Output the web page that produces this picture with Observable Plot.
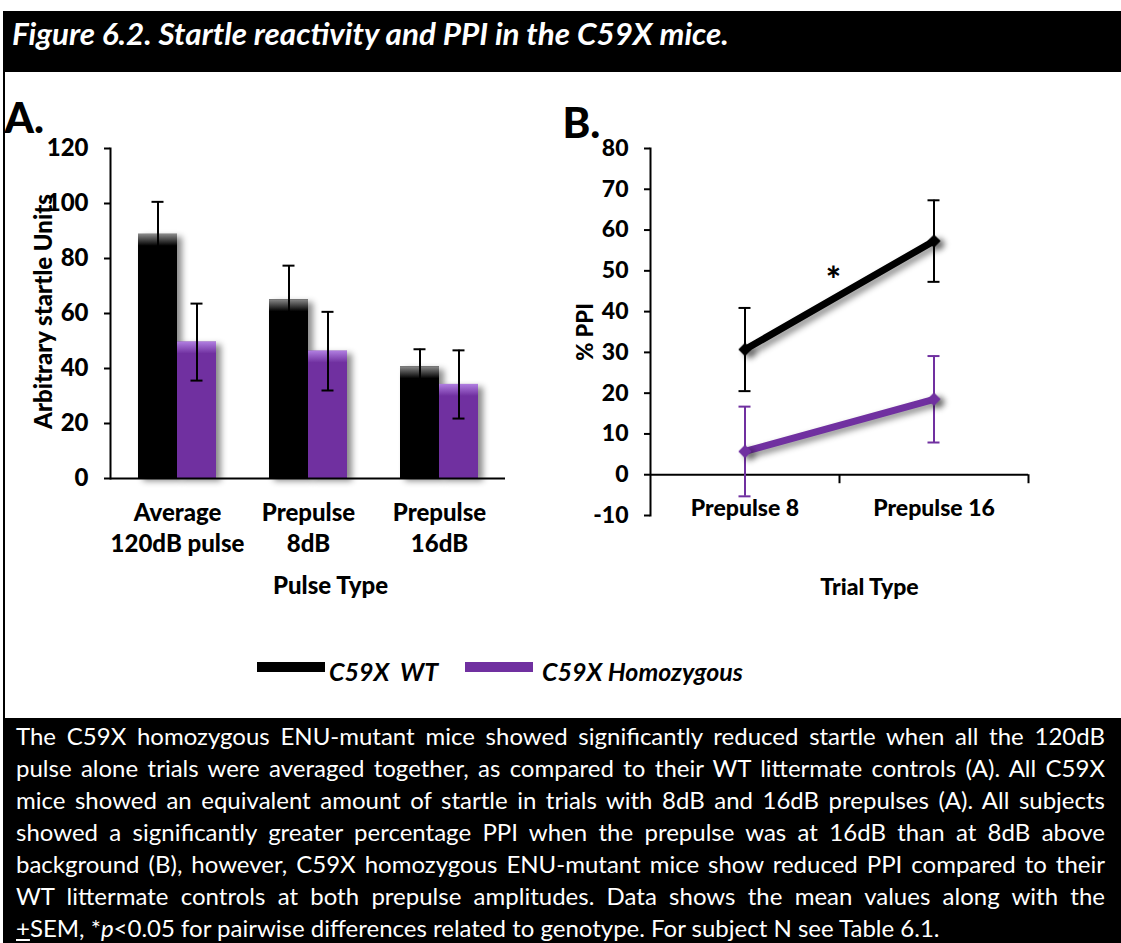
<!DOCTYPE html>
<html>
<head>
<meta charset="utf-8">
<script src="https://cdn.jsdelivr.net/npm/d3@7"></script>
<script src="https://cdn.jsdelivr.net/npm/@observablehq/plot@0.6"></script>
<style>
  html, body { margin: 0; padding: 0; background: #fff; }
  body { position: relative; width: 1121px; height: 943px; overflow: hidden; font-family: Lato, "Open Sans", sans-serif; }
  #header { position: absolute; left: 3px; top: 11px; width: 1118px; height: 61px; background: #000; }
  #title { position: absolute; left: 9px; top: 4px; color: #fff; font-weight: bold; font-style: italic; font-size: 31.4px; line-height: 37px; white-space: nowrap; }
  #leftBorder { position: absolute; left: 3px; top: 72px; width: 2px; height: 646px; background: #000; }
  #chartA { position: absolute; left: 0; top: 80px; width: 540px; height: 540px; }
  #chartB { position: absolute; left: 540px; top: 80px; width: 581px; height: 540px; }
  #chartA svg, #chartB svg { overflow: visible; }
  #chartA svg text, #chartB svg text { font-weight: 900; }
  .swatch { position: absolute; height: 10px; }
  .legText { position: absolute; font-weight: bold; font-style: italic; font-size: 25px; white-space: pre; line-height: 30px; }
  #caption { position: absolute; left: 3px; top: 718px; width: 1118px; height: 225px; background: #000; }
  #captionText { position: absolute; left: 16px; top: 720px; width: 1089px; color: #fff; font-size: 24px; line-height: 32px; }
  .cl { white-space: nowrap; text-align: justify; text-align-last: justify; }
  .cl.last { text-align: left; text-align-last: left; }
</style>
</head>
<body>
<div id="header"><div id="title">Figure 6.2. Startle reactivity and PPI in the C59X mice.</div></div>
<div id="leftBorder"></div>
<div id="chartA"></div>
<div id="chartB"></div>
<div id="legend"></div>
<div id="caption"></div>
<div id="captionText"></div>
<script>
// ---------------- DATA ----------------
const pulseTypes = ["Average\n120dB pulse", "Prepulse\n8dB", "Prepulse\n16dB"];
const wtStartle = [88.8, 65.0, 40.6];
const wtStartleSEM = [11.8, 12.4, 6.4];
const homStartle = [49.6, 46.3, 34.2];
const homStartleSEM = [14.0, 14.3, 12.4];
const startleTicks = [0, 20, 40, 60, 80, 100, 120];

const trialTypes = ["Prepulse 8", "Prepulse 16"];
const wtPPI = [30.7, 57.3];
const wtPPISEM = [10.2, 10.0];
const homPPI = [5.7, 18.5];
const homPPISEM = [11.0, 10.6];
const ppiTicks = [-10, 0, 10, 20, 30, 40, 50, 60, 70, 80];

const seriesNames = ["C59X  WT", "C59X Homozygous"];
const seriesColors = ["#000000", "#7030A0"];
const seriesHighlights = ["#8a8a8a", "#b07ee0"];

const captionLines = [
  "The C59X homozygous ENU-mutant mice showed significantly reduced startle when all the 120dB",
  "pulse alone trials were averaged together, as compared to their WT littermate controls (A). All C59X",
  "mice showed an equivalent amount of startle in trials with 8dB and 16dB prepulses (A). All subjects",
  "showed a significantly greater percentage PPI when the prepulse was at 16dB than at 8dB above",
  "background (B), however, C59X homozygous ENU-mutant mice show reduced PPI compared to their",
  "WT littermate controls at both prepulse amplitudes. Data shows the mean values along with the",
  "<u>+</u>SEM, *<i>p</i>&lt;0.05 for pairwise differences related to genotype. For subject N see Table 6.1."
];

// ---------------- TABLES ----------------
const startleWT = pulseTypes.map((p, i) => ({p, v: wtStartle[i], e: wtStartleSEM[i]}));
const startleHom = pulseTypes.map((p, i) => ({p, v: homStartle[i], e: homStartleSEM[i]}));
const ppiWT = trialTypes.map((t, i) => ({t, v: wtPPI[i], e: wtPPISEM[i]}));
const ppiHom = trialTypes.map((t, i) => ({t, v: homPPI[i], e: homPPISEM[i]}));

function gradientDefs() {
  const ns = "http://www.w3.org/2000/svg";
  const defs = document.createElementNS(ns, "defs");
  seriesColors.forEach((c, k) => {
    const g = document.createElementNS(ns, "linearGradient");
    g.setAttribute("id", "hl" + k);
    g.setAttribute("x1", "0"); g.setAttribute("y1", "0");
    g.setAttribute("x2", "0"); g.setAttribute("y2", "1");
    const s1 = document.createElementNS(ns, "stop");
    s1.setAttribute("offset", "0"); s1.setAttribute("stop-color", seriesHighlights[k]);
    const s2 = document.createElementNS(ns, "stop");
    s2.setAttribute("offset", "1"); s2.setAttribute("stop-color", c);
    g.appendChild(s1); g.appendChild(s2);
    defs.appendChild(g);
  });
  return defs;
}

const baseStyle = {fontFamily: "Lato, 'Open Sans', sans-serif", fontSize: "24px", fontWeight: "bold", color: "#000", background: "transparent", overflow: "visible"};
const plain = d => String(d);

// ---------------- PANEL A ----------------
const half = 39;
const chartA = Plot.plot({
  width: 540, height: 540,
  marginLeft: 110, marginRight: 35, marginTop: 68, marginBottom: 142,
  style: baseStyle,
  x: {domain: pulseTypes, paddingInner: 0.408, paddingOuter: 0.204},
  y: {domain: [0, 120]},
  marks: [
    gradientDefs,
    Plot.barY(startleWT, {x: "p", y: "v", fill: seriesColors[0], insetRight: half}),
    Plot.barY(startleHom, {x: "p", y: "v", fill: seriesColors[1], insetLeft: half}),
    Plot.barY(startleWT, {x: "p", y1: "v", y2: "v", insetRight: half, insetBottom: -12, fill: "url(#hl0)"}),
    Plot.barY(startleHom, {x: "p", y1: "v", y2: "v", insetLeft: half, insetBottom: -12, fill: "url(#hl1)"}),
    Plot.ruleX(startleWT, {x: "p", y1: d => d.v - d.e, y2: d => d.v + d.e, dx: -half / 2, stroke: "#000", strokeWidth: 2}),
    Plot.ruleX(startleHom, {x: "p", y1: d => d.v - d.e, y2: d => d.v + d.e, dx: half / 2, stroke: "#000", strokeWidth: 2}),
    Plot.tickY(startleWT, {x: "p", y: d => d.v + d.e, insetLeft: 13.5, insetRight: 52.5, stroke: "#000", strokeWidth: 2}),
    Plot.tickY(startleWT, {x: "p", y: d => d.v - d.e, insetLeft: 13.5, insetRight: 52.5, stroke: "#000", strokeWidth: 2}),
    Plot.tickY(startleHom, {x: "p", y: d => d.v + d.e, insetLeft: 52.5, insetRight: 13.5, stroke: "#000", strokeWidth: 2}),
    Plot.tickY(startleHom, {x: "p", y: d => d.v - d.e, insetLeft: 52.5, insetRight: 13.5, stroke: "#000", strokeWidth: 2}),
    Plot.frame({anchor: "left", strokeWidth: 2}),
    Plot.ruleY([0], {strokeWidth: 2}),
    Plot.axisY({ticks: startleTicks, tickFormat: plain, tickSize: 6, tickPadding: 16, strokeWidth: 2, label: null, fontSize: 24, fontWeight: "bold"}),
    Plot.axisX({tickSize: 0, tickPadding: 20, lineHeight: 1.3, label: null, fontSize: 24, fontWeight: "bold"}),
    Plot.text(["Pulse Type"], {frameAnchor: "bottom", lineAnchor: "middle", dx: 22.5, dy: 108, fontSize: 24}),
    Plot.text(["Arbitrary startle Units"], {frameAnchor: "left", textAnchor: "middle", lineAnchor: "middle", rotate: -90, dx: -66.5, dy: -2, fontSize: 24}),
    Plot.text(["A."], {frameAnchor: "top-left", textAnchor: "start", lineAnchor: "top", dx: -106, dy: -45, fontSize: 42})
  ]
});
document.getElementById("chartA").appendChild(chartA);

// ---------------- PANEL B ----------------
const chartB = Plot.plot({
  width: 581, height: 540,
  marginLeft: 110, marginRight: 93, marginTop: 68, marginBottom: 105,
  style: baseStyle,
  x: {domain: trialTypes, padding: 0, axis: null},
  y: {domain: [-10, 80]},
  marks: [
    Plot.frame({anchor: "left", strokeWidth: 2}),
    Plot.ruleY([0], {strokeWidth: 2}),
    Plot.ruleX(trialTypes, {x: d => d, y1: 0, y2: 0, dx: 94.5, insetBottom: -9, strokeWidth: 2}),
    Plot.axisY({ticks: ppiTicks, tickFormat: plain, tickSize: 6, tickPadding: 16, strokeWidth: 2, label: null, fontSize: 23, fontWeight: "bold"}),
    Plot.ruleX(ppiWT, {x: "t", y1: d => d.v - d.e, y2: d => d.v + d.e, stroke: seriesColors[0], strokeWidth: 2}),
    Plot.tickY(ppiWT, {x: "t", y: d => d.v + d.e, insetLeft: 88.5, insetRight: 88.5, stroke: seriesColors[0], strokeWidth: 2}),
    Plot.tickY(ppiWT, {x: "t", y: d => d.v - d.e, insetLeft: 88.5, insetRight: 88.5, stroke: seriesColors[0], strokeWidth: 2}),
    Plot.ruleX(ppiHom, {x: "t", y1: d => d.v - d.e, y2: d => d.v + d.e, stroke: seriesColors[1], strokeWidth: 2}),
    Plot.tickY(ppiHom, {x: "t", y: d => d.v + d.e, insetLeft: 88.5, insetRight: 88.5, stroke: seriesColors[1], strokeWidth: 2}),
    Plot.tickY(ppiHom, {x: "t", y: d => d.v - d.e, insetLeft: 88.5, insetRight: 88.5, stroke: seriesColors[1], strokeWidth: 2}),
    Plot.line(ppiWT, {x: "t", y: "v", stroke: seriesColors[0], strokeWidth: 7}),
    Plot.line(ppiHom, {x: "t", y: "v", stroke: seriesColors[1], strokeWidth: 7}),
    Plot.dot(ppiWT, {x: "t", y: "v", symbol: "diamond2", r: 6, fill: seriesColors[0], stroke: "none"}),
    Plot.dot(ppiHom, {x: "t", y: "v", symbol: "diamond2", r: 6, fill: seriesColors[1], stroke: "none"}),
    Plot.text(trialTypes, {x: d => d, y: 0, dy: 34, fontSize: 23, fontWeight: "bold"}),
    Plot.text(["*"], {frameAnchor: "top-left", textAnchor: "middle", lineAnchor: "top", dx: 183, dy: 119, fontSize: 36}),
    Plot.text(["Trial Type"], {frameAnchor: "bottom", lineAnchor: "middle", dx: 30, dy: 72, fontSize: 23}),
    Plot.text(["% PPI"], {frameAnchor: "left", textAnchor: "middle", lineAnchor: "middle", rotate: -90, dx: -65, dy: 0, fontSize: 22}),
    Plot.text(["B."], {frameAnchor: "top-left", textAnchor: "start", lineAnchor: "top", dx: -88, dy: -40, fontSize: 42})
  ]
});
document.getElementById("chartB").appendChild(chartB);

// shadows
const shadow = "drop-shadow(5px 3px 3px rgba(0,0,0,0.45))";
d3.select(chartA).selectAll('g[aria-label="bar"]').filter((d, i) => i < 2).style("filter", shadow);
d3.select(chartB).selectAll('g[aria-label="line"], g[aria-label="dot"]').style("filter", shadow);

// ---------------- LEGEND ----------------
const legend = document.getElementById("legend");
const swLeft = [257, 465], txLeft = [329, 542];
seriesNames.forEach((name, k) => {
  const sw = document.createElement("div");
  sw.className = "swatch";
  sw.style.left = swLeft[k] + "px"; sw.style.top = "662px"; sw.style.width = "68px";
  sw.style.background = seriesColors[k];
  legend.appendChild(sw);
  const tx = document.createElement("div");
  tx.className = "legText";
  tx.style.left = txLeft[k] + "px"; tx.style.top = "656px";
  tx.textContent = name;
  legend.appendChild(tx);
});

// ---------------- CAPTION ----------------
const cap = document.getElementById("captionText");
captionLines.forEach((line, i) => {
  const d = document.createElement("div");
  d.className = "cl" + (i === captionLines.length - 1 ? " last" : "");
  d.innerHTML = line;
  cap.appendChild(d);
});
</script>
</body>
</html>
